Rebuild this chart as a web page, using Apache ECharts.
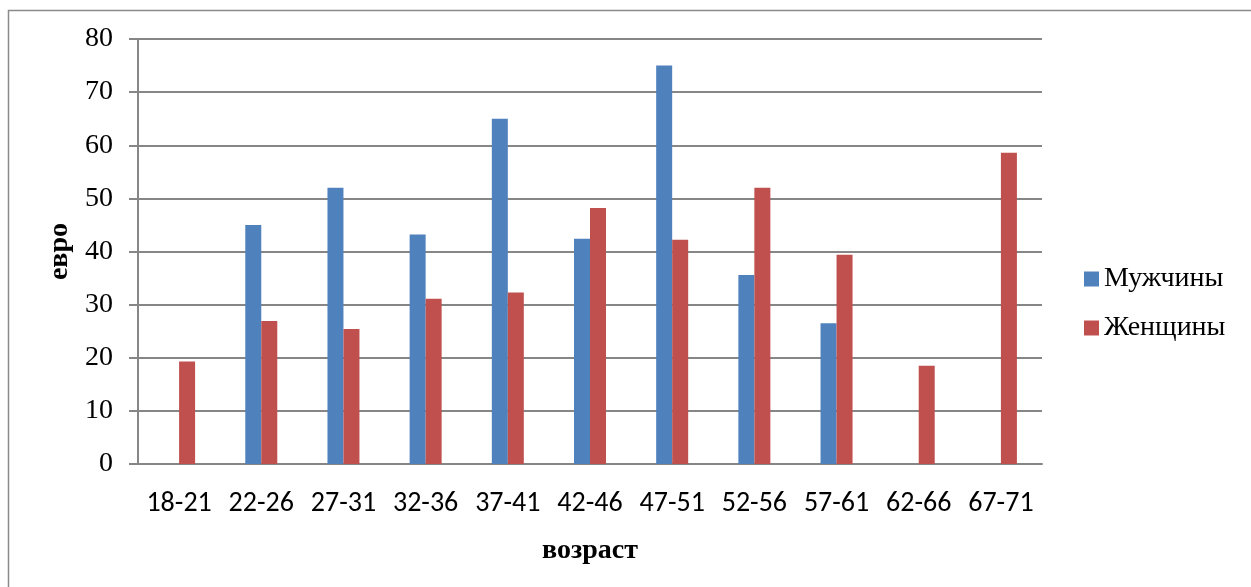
<!DOCTYPE html>
<html>
<head>
<meta charset="utf-8">
<script src="https://cdn.jsdelivr.net/npm/echarts@6/dist/echarts.min.js"></script>
<style>
  html, body { margin: 0; padding: 0; background: #fff; }
  #chart { width: 1251px; height: 587px; }
</style>
</head>
<body>
<div id="chart"></div>
<script>
// Age groups and average spending (euro) per group
const ageGroups = ['18-21', '22-26', '27-31', '32-36', '37-41', '42-46', '47-51', '52-56', '57-61', '62-66', '67-71'];
const men   = [null, 45.0, 52.0, 43.2, 65.0, 42.4, 75.0, 35.6, 26.5, null, null];
const women = [19.3, 26.9, 25.4, 31.1, 32.3, 48.2, 42.2, 52.0, 39.4, 18.5, 58.6];
const yTicks = { min: 0, max: 80, step: 10 };

const serif = "'Liberation Serif', 'Times New Roman', serif";
const narrow = "Carlito, 'Liberation Sans Narrow', 'DejaVu Sans Condensed', sans-serif";
const gridGrey = '#868686';

const chart = echarts.init(document.getElementById('chart'), null, { renderer: 'canvas' });

chart.setOption({
  animation: false,
  backgroundColor: '#ffffff',
  graphic: [{
    type: 'rect',
    shape: { x: 8.5, y: 10.5, width: 1260, height: 600 },
    style: { fill: 'none', stroke: '#8a8a8a', lineWidth: 1.5 },
    silent: true
  }],
  grid: { left: 138, right: 209, top: 39, bottom: 123, containLabel: false },
  legend: {
    orient: 'vertical',
    left: 1084,
    top: 265,
    padding: 0,
    itemWidth: 15,
    itemHeight: 15,
    itemGap: 21,
    icon: 'rect',
    textStyle: { fontFamily: serif, fontSize: 28, color: '#000', lineHeight: 28, padding: [0, 0, 0, 0] },
    data: ['Мужчины', 'Женщины']
  },
  xAxis: {
    type: 'category',
    data: ageGroups,
    name: 'возраст',
    nameLocation: 'middle',
    nameGap: 73,
    nameTextStyle: { fontFamily: serif, fontSize: 28, fontWeight: 'bold', color: '#000' },
    axisLine: { show: true, lineStyle: { color: gridGrey, width: 2 } },
    axisTick: { show: false },
    axisLabel: { fontFamily: narrow, fontSize: 28, color: '#000', margin: 26, lineHeight: 28, interval: 0 }
  },
  yAxis: {
    type: 'value',
    min: yTicks.min,
    max: yTicks.max,
    interval: yTicks.step,
    name: 'евро',
    nameLocation: 'middle',
    nameGap: 61,
    nameRotate: 90,
    nameTextStyle: { fontFamily: serif, fontSize: 28, fontWeight: 'bold', color: '#000' },
    axisLine: { show: true, lineStyle: { color: gridGrey, width: 2 } },
    axisTick: { show: true, inside: false, length: 9, lineStyle: { color: gridGrey, width: 2 } },
    axisLabel: { fontFamily: serif, fontSize: 28, color: '#000', margin: 25 },
    splitLine: { show: true, lineStyle: { color: gridGrey, width: 2 } }
  },
  series: [
    {
      name: 'Мужчины',
      type: 'bar',
      data: men,
      barWidth: 16,
      barGap: '0%',
      itemStyle: { color: '#4F81BD' }
    },
    {
      name: 'Женщины',
      type: 'bar',
      data: women,
      barWidth: 16,
      barGap: '0%',
      itemStyle: { color: '#C0504D' }
    }
  ]
});
</script>
</body>
</html>
